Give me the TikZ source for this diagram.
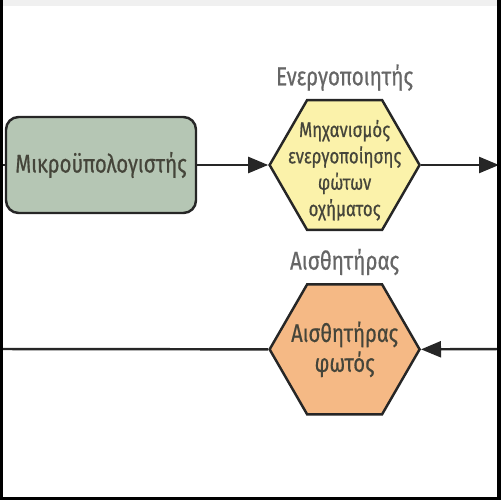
\documentclass[tikz,border=0pt]{standalone}
\usepackage{fontspec}
\setmainfont{Fira Sans}[FakeStretch=0.8, FakeBold=0.6]
\usetikzlibrary{positioning,shapes.geometric,arrows.meta}
\definecolor{pcgreen}{HTML}{B5C6B4}
\definecolor{actyellow}{HTML}{FBF2AA}
\definecolor{sensorange}{HTML}{F5B985}
\definecolor{inktext}{HTML}{45453A}
\definecolor{tagtext}{HTML}{666666}
\tikzset{
  pcbox/.style={draw=black!85, line width=1.4pt, fill=pcgreen, rounded corners=0.25cm,
    minimum width=3.8cm, minimum height=1.92cm, text=inktext,
    font=\fontsize{14.5}{16}\selectfont},
  hexa/.style={regular polygon, regular polygon sides=6, draw=black!85, line width=1.4pt,
    minimum size=3cm, inner sep=0pt},
  hextext/.style={align=center, text=inktext},
  tag/.style={text=tagtext, font=\fontsize{14.7}{16}\selectfont, label distance=1pt},
  flow/.style={draw=black!85, line width=1.4pt, -{Triangle[length=0.4cm,width=0.32cm]}},
  wire/.style={draw=black!85, line width=1.4pt}
}

\begin{document}
\begin{tikzpicture}[x=0.02cm, y=-0.02cm, node distance=1.04cm and 1.42cm]
    \useasboundingbox (0,0) rectangle (500,500);
    \fill[black!6] (0,0) rectangle (500,6);

  \begin{scope}
    \clip (0,0) rectangle (498,500);
    \node[pcbox] (micro) at (101,165) {Μικροϋπολογιστής};
    \node[hexa, fill=actyellow, right=of micro,
      label={[tag]above:Ενεργοποιητής},
      label={[hextext, font=\fontsize{12}{15}\selectfont, yshift=-3pt]center:Μηχανισμός\\ενεργοποίησης\\φώτων\\οχήματος}] (act) {};
    \node[pcbox, right=1.56cm of act, minimum height=1.76cm] (relay) {};
    \node[hexa, fill=sensorange, below=of act,
      label={[tag]above:Αισθητήρας},
      label={[hextext, font=\fontsize{14.4}{17}\selectfont]center:Αισθητήρας\\φωτός}] (sens) {};

    \coordinate (inpc) at (0,165);
    \coordinate (outl) at (0,349);
    \coordinate (inr) at (500,349);

    \draw[wire] (inpc) -- (micro);
    \draw[flow] (micro) -- (act);
    \draw[flow] (act) -- (relay);
    \draw[wire] (outl) -- (sens.west);
    \draw[flow] (inr) -- (sens.east);
  \end{scope}

    % frame
    \draw[black, line width=2pt] (1,0) -- (1,499) -- (499,499) -- (499,0);
\end{tikzpicture}
\end{document}
